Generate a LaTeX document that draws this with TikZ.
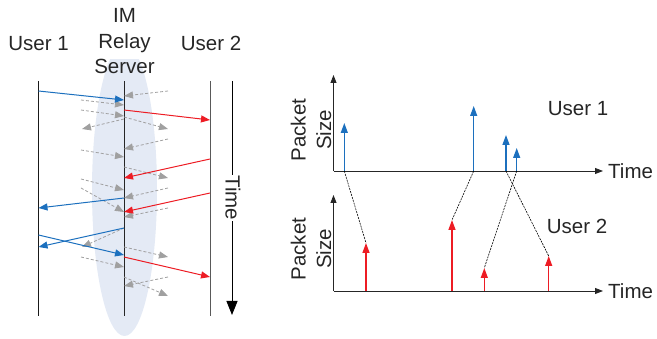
\documentclass[tikz,border=0pt]{standalone}
\usepackage{fontspec}
\setmainfont{Liberation Sans}
\usetikzlibrary{arrows.meta}
\definecolor{msgblue}{RGB}{28,112,190}
\definecolor{msgred}{RGB}{237,28,36}
\definecolor{msggray}{RGB}{160,160,160}
\definecolor{haze}{RGB}{228,234,245}
\begin{document}
\begin{tikzpicture}[x=1pt,y=-1pt,
  lbl/.style={font=\fontsize{20.5}{25.5}\selectfont, inner sep=0pt, text=black!85},
  life/.style={line width=0.9pt, black!90},
  bluemsg/.style={line width=1pt, msgblue, -{Triangle[length=9pt,width=7pt]}},
  redmsg/.style={line width=1pt, msgred, -{Triangle[length=9pt,width=7pt]}},
  graymsg/.style={line width=0.8pt, msggray, dash pattern=on 3pt off 2pt, -{Triangle[length=9pt,width=7pt]}},
  axisline/.style={line width=0.9pt, black!85, -{Triangle[length=8pt,width=6pt]}},
  bluebar/.style={line width=1.3pt, msgblue, -{Triangle[length=10pt,width=7pt]}},
  redbar/.style={line width=1.3pt, msgred, -{Triangle[length=10pt,width=7pt]}},
  link/.style={line width=0.6pt, black, dash pattern=on 2pt off 1pt}]
\useasboundingbox (0,0) rectangle (657,339);
% haze around server
\begin{scope}
  \clip (80,60) rectangle (170,339);
  \fill[haze] (124.5,190) ellipse [x radius=32.5, y radius=146];
\end{scope}
% labels
\node[lbl, anchor=base] (u1) at (38.5,51) {User 1};
\node[lbl, anchor=base] (u2) at (211,51) {User 2};
\node[lbl, anchor=base, align=center] (srv) at (124.5,74) {IM\\Relay\\Server};
% lifelines
\coordinate (u1top) at (38.5,81); \coordinate (u1bot) at (38.5,316);
\coordinate (stop) at (124,81);   \coordinate (sbot) at (124,316);
\coordinate (u2top) at (210,81);  \coordinate (u2bot) at (210,316);
\draw[life] (u1top) -- (u1bot);
\draw[life, black!85] (stop) -- (sbot);
\draw[life, black!65] (u2top) -- (u2bot);
% time axis
\coordinate (ttop) at (232,81); \coordinate (tbot) at (232,315);
\draw[line width=0.9pt, black, -{Triangle[length=14pt,width=11pt]}] (ttop) -- (tbot);
\node[lbl, rotate=-90, fill=white, inner xsep=1pt] (tlbl) at (233,198) {Time};
% gray messages
\foreach \i/\xa/\ya/\xb/\yb in {
  2/168/91/124/96, 3/81/100/124/105, 4/81/110/124/116, 6/124/119/82/129,
  7/124/117/168/129, 8/168/139/124/149, 9/81/150/124/157, 11/124/167/168/178,
  12/81/179/124/190, 13/168/188/124/198, 15/81/188/124/212, 17/168/208/124/217,
  20/124/228/82/247, 21/124/247/168/257, 23/81/257/124/267, 24/168/277/124/286,
  25/124/277/168/296}{
  \coordinate (g\i s) at (\xa,\ya); \coordinate (g\i e) at (\xb,\yb);
  \draw[graymsg] (g\i s) -- (g\i e);
}
% blue messages
\foreach \i/\xa/\ya/\xb/\yb in {
  1/38.5/91/124/100, 14/124/198/38.5/208, 18/124/228/38.5/247, 19/38.5/235/124/255}{
  \coordinate (b\i s) at (\xa,\ya); \coordinate (b\i e) at (\xb,\yb);
  \draw[bluemsg] (b\i s) -- (b\i e);
}
% red messages
\foreach \i/\xa/\ya/\xb/\yb in {
  5/124/110/210/120, 10/210/159/124/178, 16/210/193/124/212, 22/124/257/210/277}{
  \coordinate (r\i s) at (\xa,\ya); \coordinate (r\i e) at (\xb,\yb);
  \draw[redmsg] (r\i s) -- (r\i e);
}
% right panel: axes
\coordinate (o1) at (333.5,171); \coordinate (y1) at (333.5,75); \coordinate (x1) at (603,171);
\coordinate (o2) at (333.5,291); \coordinate (y2) at (333.5,195); \coordinate (x2) at (603,291);
\draw[axisline] (o1) -- (y1);
\draw[axisline] (o1) -- (x1);
\draw[axisline] (o2) -- (y2);
\draw[axisline] (o2) -- (x2);
\node[lbl, anchor=west] (t1) at (608,171) {Time};
\node[lbl, anchor=west] (t2) at (608,291) {Time};
\node[lbl, rotate=90, align=center] (ps1) at (311,130) {Packet\\Size};
\node[lbl, rotate=90, align=center] (ps2) at (311,249) {Packet\\Size};
\node[lbl] (usr1) at (578,109) {User 1};
\node[lbl] (usr2) at (577,226) {User 2};
% packets user 1
\foreach \i/\x/\h in {1/344.3/123, 2/473.7/106, 3/506/135, 4/516.7/148}{
  \coordinate (pb\i) at (\x,171); \coordinate (pt\i) at (\x,\h);
  \draw[bluebar] (pb\i) -- (pt\i);
}
% packets user 2
\foreach \i/\x/\h in {1/366/243, 2/452/220, 3/484.3/268, 4/548.7/256}{
  \coordinate (qb\i) at (\x,291); \coordinate (qt\i) at (\x,\h);
  \draw[redbar] (qb\i) -- (qt\i);
}
% links
\draw[link] (pb1) -- (qt1);
\draw[link] (pb2) -- (qt2);
\draw[link] (pb3) -- (qt4);
\draw[link] (pb4) -- (qt3);
\end{tikzpicture}
\end{document}
